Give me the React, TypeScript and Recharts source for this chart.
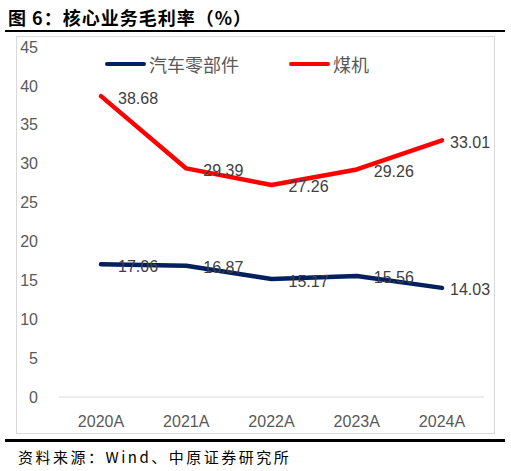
import React from 'react';
import { LineChart, Line, XAxis, YAxis, Legend, LabelList } from 'recharts';

// categories and values
const years = ['2020A', '2021A', '2022A', '2023A', '2024A'];
const autoParts = [17.06, 16.87, 15.17, 15.56, 14.03];
const coalMachinery = [38.68, 29.39, 27.26, 29.26, 33.01];
const yTicks = [0, 5, 10, 15, 20, 25, 30, 35, 40, 45];

const seriesNames = { auto: '汽车零部件', coal: '煤机' };
const colors = { auto: '#002060', coal: '#FF0000' };

const chartData = years.map((year, i) => ({
  year,
  auto: autoParts[i],
  coal: coalMachinery[i],
}));

const tickStyle = { fill: '#595959', fontSize: 16, fontFamily: 'Liberation Sans, Arial, sans-serif' };

const makeLabel = (count: number) => (props: any) => {
  const { x, y, value, index } = props;
  const dx = index === count - 1 ? 8 : 17;
  return (
    <text
      x={x + dx}
      y={y + 2}
      fill="#404040"
      fontSize={16}
      fontFamily="Liberation Sans, Arial, sans-serif"
      dominantBaseline="central"
    >
      {Number(value).toFixed(2)}
    </text>
  );
};

const LegendContent = (props: any) => {
  const { payload } = props;
  return (
    <div style={{ display: 'flex', alignItems: 'center' }}>
      {(payload || []).map((entry: any, i: number) => (
        <div key={entry.value} style={{ display: 'flex', alignItems: 'center', marginRight: i === 0 ? 50 : 0 }}>
          <div style={{ width: 41, height: 4, borderRadius: 2, background: entry.color, marginRight: 3 }} />
          <span style={{ color: '#595959', fontSize: 18, fontFamily: '"Noto Sans CJK SC", sans-serif', lineHeight: '20px' }}>
            {entry.value}
          </span>
        </div>
      ))}
    </div>
  );
};

const App: React.FC = () => {
  return (
    <div style={{ position: 'absolute', left: 0, top: 0, width: 511, height: 471, background: '#fff' }}>
      <div
        style={{
          position: 'absolute',
          left: 8,
          top: 5,
          fontSize: 18,
          fontWeight: 'bold',
          letterSpacing: 1,
          fontFamily: '"Noto Sans CJK SC", sans-serif',
          lineHeight: '24px',
          color: '#000',
        }}
      >
        图 6：核心业务毛利率（%）
      </div>
      <div style={{ position: 'absolute', left: 5, top: 30, width: 500, height: 2, background: '#000' }} />

      <div
        style={{
          position: 'absolute',
          left: 16,
          top: 36,
          width: 477,
          height: 396,
          border: '1px solid #d9d9d9',
        }}
      >
        <LineChart
          width={477}
          height={396}
          data={chartData}
          margin={{ top: 10, right: 10, bottom: 6, left: 0 }}
        >
          <XAxis
            dataKey="year"
            padding={{ left: 42, right: 42 }}
            axisLine={{ stroke: '#d9d9d9' }}
            tickLine={false}
            tickMargin={13}
            height={30}
            tick={tickStyle}
            interval={0}
          />
          <YAxis
            domain={[0, 45]}
            ticks={yTicks}
            axisLine={false}
            tickLine={false}
            tickMargin={15}
            width={42}
            tick={tickStyle}
            interval={0}
          />
          <Legend
            layout="horizontal"
            align="center"
            verticalAlign="middle"
            content={LegendContent}
            wrapperStyle={{ left: 88, top: 17, width: 300 }}
          />
          <Line
            name={seriesNames.auto}
            dataKey="auto"
            stroke={colors.auto}
            strokeWidth={4.5}
            strokeLinecap="round"
            strokeLinejoin="round"
            dot={false}
            isAnimationActive={false}
          >
            <LabelList dataKey="auto" content={makeLabel(years.length)} />
          </Line>
          <Line
            name={seriesNames.coal}
            dataKey="coal"
            stroke={colors.coal}
            strokeWidth={4.5}
            strokeLinecap="round"
            strokeLinejoin="round"
            dot={false}
            isAnimationActive={false}
          >
            <LabelList dataKey="coal" content={makeLabel(years.length)} />
          </Line>
        </LineChart>
      </div>

      <div style={{ position: 'absolute', left: 5, top: 439, width: 500, height: 3, background: '#000' }} />
      <div
        style={{
          position: 'absolute',
          left: 18,
          top: 446,
          fontSize: 15,
          letterSpacing: 2.5,
          fontFamily: '"Noto Sans CJK SC", sans-serif',
          lineHeight: '22px',
          color: '#000',
        }}
      >
        资料来源：Wind、中原证券研究所
      </div>
    </div>
  );
};

export default App;
